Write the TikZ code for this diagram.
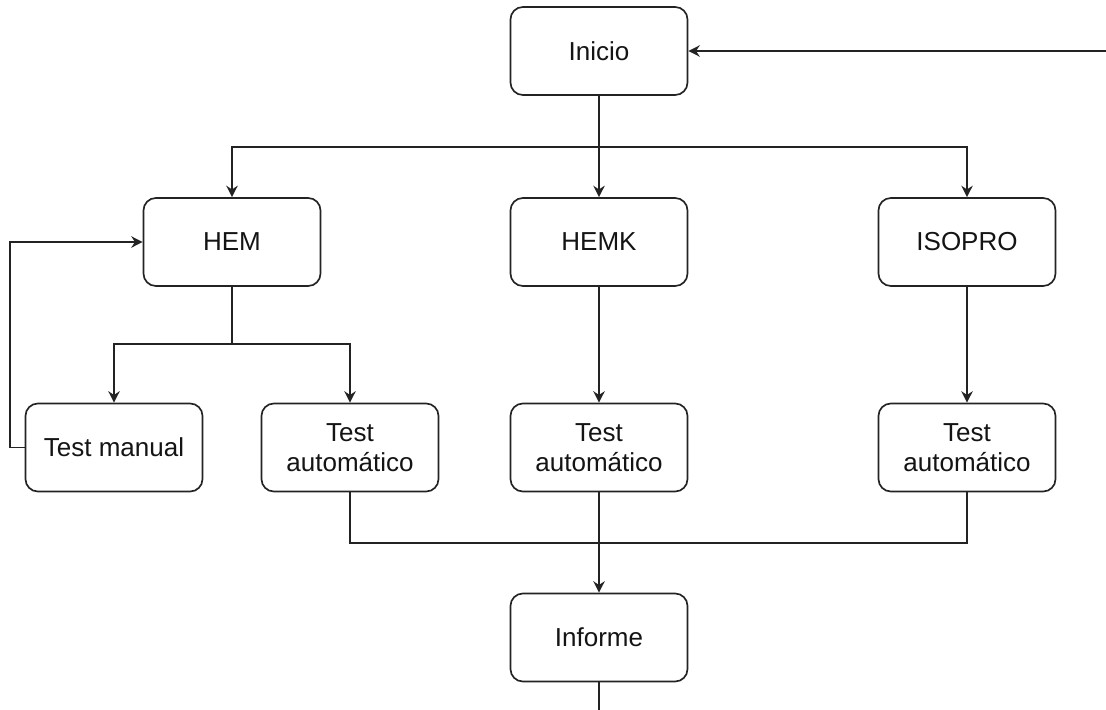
\documentclass[tikz,border=0pt]{standalone}
\usepackage{fontspec}
\setmainfont{Liberation Sans}
\usepackage{tikz}
\usetikzlibrary{arrows.meta}
\definecolor{edge_gray}{RGB}{35,35,35}
\definecolor{text_gray}{RGB}{20,20,20}

\begin{document}
\begin{tikzpicture}[x=0.02cm,y=-0.02cm,line width=0.95pt,draw=edge_gray,
    >={Stealth[length=6.5pt,width=6.5pt]}]
    \tikzstyle{box}=[draw=edge_gray, rectangle, rounded corners=7pt, minimum width=3.54cm,
      minimum height=1.76cm, align=center, text=text_gray, fill=white,
      font=\fontsize{14.8}{17}\selectfont]

    \useasboundingbox (0,0) rectangle (1106,710);

    \node[box] (inicio)  at (599,51)   {Inicio};
    \node[box] (hem)     at (232,242)  {HEM};
    \node[box] (hemk)    at (599,242)  {HEMK};
    \node[box] (isopro)  at (967,242)  {ISOPRO};
    \node[box] (manual)  at (114,447.5) {Test manual};
    \node[box] (autoA)   at (350,447.5) {Test\\automático};
    \node[box] (autoB)   at (599,447.5) {Test\\automático};
    \node[box] (autoC)   at (967,447.5) {Test\\automático};
    \node[box] (informe) at (599,637.5) {Informe};

    % junctions of the orthogonal connectors
    \coordinate (feed)   at (1106,51);
    \coordinate (split)  at (599,147);
    \coordinate (hsplit) at (232,344);
    \coordinate (back)   at (10,447.5);
    \coordinate (merge)  at (599,543);
    \coordinate (out)    at (599,710);

    \draw[->] (feed) -- (inicio.east);
    \draw[->] (inicio.south) -- (split) -| (hem.north);
    \draw[->] (split) -- (hemk.north);
    \draw[->] (split) -| (isopro.north);

    \draw[->] (hem.south) -- (hsplit) -| (manual.north);
    \draw[->] (hsplit) -| (autoA.north);
    \draw[->] (manual.west) -- (back) |- (hem.west);
    \draw[->] (hemk.south) -- (autoB.north);
    \draw[->] (isopro.south) -- (autoC.north);

    \draw (autoA.south) |- (merge) -| (autoC.south);
    \draw[->] (autoB.south) -- (informe.north);
    \draw (informe.south) -- (out);
  \end{tikzpicture}
\end{document}
